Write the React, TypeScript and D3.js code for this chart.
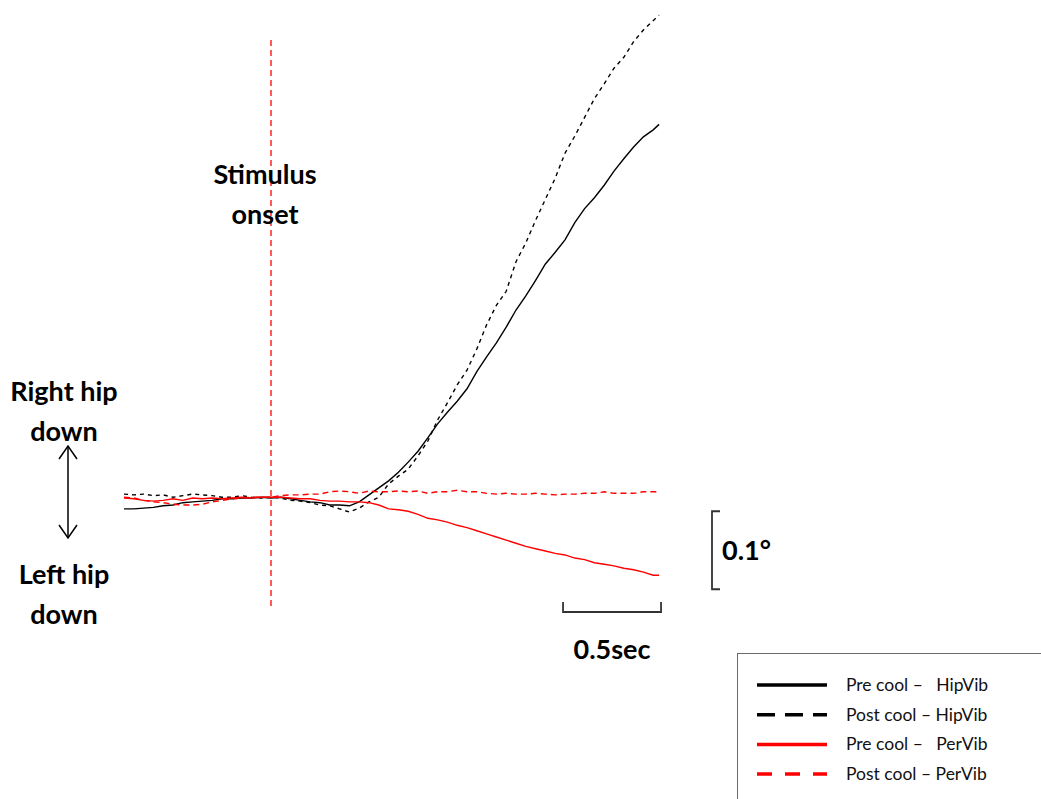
import React from "react";
import * as d3 from "d3";

// time (s) relative to stimulus onset
const TIME = [
  -0.75, -0.7, -0.65, -0.6, -0.55, -0.5, -0.45, -0.4, -0.35, -0.3, -0.25, -0.2, -0.15, -0.1, -0.05,
  0, 0.05, 0.1, 0.15, 0.2, 0.25, 0.3, 0.35, 0.4, 0.45, 0.5, 0.55, 0.6, 0.65, 0.7, 0.75, 0.8, 0.85, 0.9, 0.95,
  1.0, 1.05, 1.1, 1.15, 1.2, 1.25, 1.3, 1.35, 1.4, 1.45, 1.5, 1.55, 1.6, 1.65, 1.7, 1.75, 1.8, 1.85, 1.9, 1.95,
  1.98,
];

// pelvic tilt (degrees), positive = right hip down
const PRE_HIPVIB = [
  -0.014, -0.014, -0.013, -0.012, -0.01, -0.009, -0.006, -0.005, -0.004, -0.003, -0.001, -0.001, 0, 0, 0.001,
  0, 0.001, -0.001, -0.003, -0.005, -0.006, -0.009, -0.009, -0.01, -0.005, 0.004, 0.013, 0.022, 0.033, 0.046, 0.06, 0.077, 0.095, 0.11, 0.124,
  0.14, 0.162, 0.181, 0.199, 0.219, 0.241, 0.259, 0.279, 0.3, 0.315, 0.331, 0.353, 0.371, 0.385, 0.401, 0.419, 0.435, 0.45, 0.463, 0.472,
  0.479,
];
const POST_HIPVIB = [
  0.005, 0.004, 0.005, 0.003, 0.004, 0.001, 0.003, 0.005, 0.004, 0.003, 0.001, 0.001, 0.003, 0.001, 0,
  0.001, 0, -0.003, -0.004, -0.006, -0.009, -0.01, -0.014, -0.018, -0.013, -0.005, 0.001, 0.018, 0.028, 0.037, 0.054, 0.073, 0.1, 0.122, 0.145,
  0.164, 0.191, 0.222, 0.247, 0.265, 0.303, 0.327, 0.356, 0.383, 0.41, 0.442, 0.464, 0.488, 0.512, 0.531, 0.551, 0.565, 0.585, 0.6, 0.612,
  0.619,
];
const PRE_PERVIB = [
  0, -0.001, -0.003, -0.004, -0.003, -0.001, -0.003, 0, -0.001, 0, -0.001, 0, 0.001, 0, 0.001,
  0.001, 0.001, 0, -0.001, -0.001, -0.003, -0.004, -0.004, -0.005, -0.005, -0.006, -0.009, -0.014, -0.015, -0.017, -0.021, -0.026, -0.028, -0.031, -0.035,
  -0.038, -0.042, -0.046, -0.05, -0.054, -0.058, -0.062, -0.065, -0.068, -0.071, -0.073, -0.077, -0.079, -0.083, -0.085, -0.087, -0.09, -0.092, -0.095, -0.099,
  -0.099,
];
const POST_PERVIB = [
  0.001, 0, -0.003, -0.005, -0.006, -0.008, -0.009, -0.009, -0.008, -0.005, -0.003, -0.001, 0, 0.001, 0.001,
  0.001, 0.003, 0.004, 0.004, 0.005, 0.005, 0.008, 0.009, 0.008, 0.006, 0.009, 0.008, 0.008, 0.009, 0.008, 0.009, 0.006, 0.008, 0.008, 0.01,
  0.008, 0.008, 0.006, 0.005, 0.006, 0.005, 0.005, 0.006, 0.005, 0.004, 0.005, 0.005, 0.006, 0.006, 0.008, 0.006, 0.006, 0.006, 0.008, 0.008,
  0.008,
];

const SERIES = [
  { label: "Pre cool –   HipVib", values: PRE_HIPVIB, color: "#000", dash: null, legendDash: null },
  { label: "Post cool – HipVib", values: POST_HIPVIB, color: "#000", dash: "4,4", legendDash: "18,10" },
  { label: "Pre cool –   PerVib", values: PRE_PERVIB, color: "#ff0000", dash: null, legendDash: null },
  { label: "Post cool – PerVib", values: POST_PERVIB, color: "#ff0000", dash: "6,4", legendDash: "15,13" },
];

const STIM_TIME = 0;
const SCALE_TIME = 0.5; // sec
const SCALE_DEG = 0.1; // degrees

const FONT = "Lato, 'Open Sans', sans-serif";

export default function App() {
  const W = 1041;
  const H = 799;
  const x = d3.scaleLinear().domain([-0.75, 2.0]).range([124, 663]);
  const y = d3.scaleLinear().domain([-0.15, 0.65]).range([615, -9]);

  const line = d3
    .line<number>()
    .x((_, i) => x(TIME[i]))
    .y((v) => y(v));

  // scale bar positions (time bar ends at the last sample)
  const tbEnd = 1.99;
  const tbStart = tbEnd - SCALE_TIME;
  const tbY = 612;
  const vbX = 712;
  const vbTopVal = -0.017;
  const vbTop = y(vbTopVal);
  const vbBot = y(vbTopVal - SCALE_DEG);

  const legX = 737;
  const legY = 653;
  const big = 27;

  return (
    <svg width={W} height={H} style={{ position: "absolute", left: 0, top: 0 }} fontFamily={FONT}>
      <rect x={0} y={0} width={W} height={H} fill="#fff" />

      {/* stimulus onset line */}
      <line x1={x(STIM_TIME)} x2={x(STIM_TIME)} y1={40} y2={607} stroke="#ff0000" strokeWidth={1.3} strokeDasharray="6,4" />
      <text x={x(STIM_TIME) - 6} y={184} textAnchor="middle" fontSize={big} fontWeight="bold">Stimulus</text>
      <text x={x(STIM_TIME) - 6} y={224} textAnchor="middle" fontSize={big} fontWeight="bold">onset</text>

      {/* traces */}
      {SERIES.map((s, i) => (
        <path
          key={i}
          d={line(s.values) || ""}
          fill="none"
          stroke={s.color}
          strokeWidth={1.4}
          strokeDasharray={s.dash || undefined}
        />
      ))}

      {/* left annotations */}
      <text x={64} y={401} textAnchor="middle" fontSize={big} fontWeight="bold">Right hip</text>
      <text x={64} y={441} textAnchor="middle" fontSize={big} fontWeight="bold">down</text>
      <text x={64} y={584} textAnchor="middle" fontSize={big} fontWeight="bold">Left hip</text>
      <text x={64} y={624} textAnchor="middle" fontSize={big} fontWeight="bold">down</text>
      <g stroke="#000" strokeWidth={1.5} fill="none">
        <line x1={68} x2={68} y1={446} y2={538} />
        <polyline points="59,459 68,446 77,459" />
        <polyline points="59,525 68,538 77,525" />
      </g>

      {/* vertical scale bar */}
      <path
        d={`M${vbX + 8},${vbTop} H${vbX} V${vbBot} H${vbX + 8}`}
        fill="none"
        stroke="#333"
        strokeWidth={1.8}
      />
      <text x={722} y={560} fontSize={big} fontWeight="bold">0.1°</text>

      {/* horizontal scale bar */}
      <path
        d={`M${x(tbStart)},${tbY - 10} V${tbY} H${x(tbEnd)} V${tbY - 10}`}
        fill="none"
        stroke="#333"
        strokeWidth={1.8}
      />
      <text x={(x(tbStart) + x(tbEnd)) / 2} y={659} textAnchor="middle" fontSize={big} fontWeight="bold">0.5sec</text>

      {/* legend */}
      <rect x={legX + 0.5} y={legY + 0.5} width={W - legX + 10} height={H} fill="#fff" stroke="#6b6b6b" strokeWidth={1} />
      {SERIES.map((s, i) => {
        const ly = 685 + i * 29.7;
        return (
          <g key={i}>
            <line
              x1={757}
              x2={827}
              y1={ly}
              y2={ly}
              stroke={s.color}
              strokeWidth={3.5}
              strokeDasharray={s.legendDash || undefined}
            />
            <text x={846} y={ly + 6} fontSize={17.5} fill="#111" style={{ whiteSpace: "pre" }} xmlSpace="preserve">
              {s.label}
            </text>
          </g>
        );
      })}
    </svg>
  );
}
